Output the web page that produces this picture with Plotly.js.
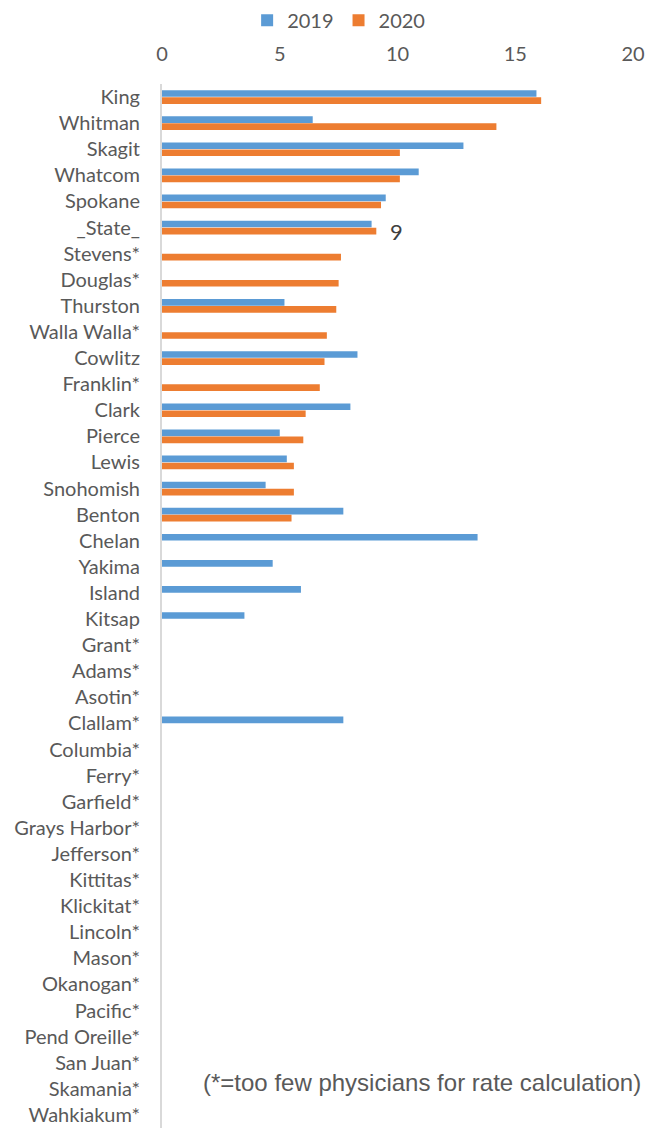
<!DOCTYPE html>
<html>
<head>
<meta charset="utf-8">
<script src="https://cdn.plot.ly/plotly-3.0.1.min.js"></script>
<style>html,body{margin:0;padding:0;background:#fff;}#chart{width:645px;height:1129px;}</style>
</head>
<body>
<div id="chart"></div>
<script>
const counties = ["King","Whitman","Skagit","Whatcom","Spokane","_State_","Stevens*","Douglas*","Thurston","Walla Walla*","Cowlitz","Franklin*","Clark","Pierce","Lewis","Snohomish","Benton","Chelan","Yakima","Island","Kitsap","Grant*","Adams*","Asotin*","Clallam*","Columbia*","Ferry*","Garfield*","Grays Harbor*","Jefferson*","Kittitas*","Klickitat*","Lincoln*","Mason*","Okanogan*","Pacific*","Pend Oreille*","San Juan*","Skamania*","Wahkiakum*"];
const rates2019 = [15.9,6.4,12.8,10.9,9.5,8.9,null,null,5.2,null,8.3,null,8.0,5.0,5.3,4.4,7.7,13.4,4.7,5.9,3.5,null,null,null,7.7,null,null,null,null,null,null,null,null,null,null,null,null,null,null,null];
const rates2020 = [16.1,14.2,10.1,10.1,9.3,9.1,7.6,7.5,7.4,7.0,6.9,6.7,6.1,6.0,5.6,5.6,5.5,null,null,null,null,null,null,null,null,null,null,null,null,null,null,null,null,null,null,null,null,null,null,null];
const seriesNames = ["2019","2020"];
const xTicks = [0,5,10,15,20];
const footnote = "(*=too few physicians for rate calculation)";
const labelledCounty = "_State_";

const gray = "#595959";
const stateIdx = counties.indexOf(labelledCounty);

const traces = [
  {type:"bar", orientation:"h", name:seriesNames[0], y:counties, x:rates2019, marker:{color:"#5B9BD5"}},
  {type:"bar", orientation:"h", name:seriesNames[1], y:counties, x:rates2020, marker:{color:"#ED7D31"}}
];

const layout = {
  width:645, height:1129,
  margin:{l:162, r:11.5, t:78, b:1, pad:0},
  paper_bgcolor:"#fff", plot_bgcolor:"#fff",
  font:{family:"Lato, sans-serif", size:20, color:gray},
  barmode:"group", bargap:0.46, bargroupgap:0.05,
  showlegend:true,
  legend:{orientation:"h", x:0.375, xanchor:"center", y:1.061, yanchor:"middle", font:{size:20, color:gray}, traceorder:"normal", itemwidth:30},
  xaxis:{side:"top", range:[0,20], tickvals:xTicks, ticktext:xTicks.map(String), showgrid:false, zeroline:false, showline:false, ticks:"outside", ticklen:14, tickcolor:"rgba(0,0,0,0)", tickfont:{size:20, color:gray}, fixedrange:true},
  yaxis:{type:"category", autorange:"reversed", showgrid:false, zeroline:false, showline:true, linecolor:"#d9d9d9", linewidth:2, ticks:"outside", ticklen:16, tickcolor:"rgba(0,0,0,0)", tickfont:{size:20, color:gray}, fixedrange:true},
  annotations:[
    {x:rates2020[stateIdx], y:labelledCounty, xref:"x", yref:"y", text:String(Math.round(rates2020[stateIdx])), showarrow:false, xanchor:"left", yanchor:"middle", xshift:12, yshift:-4, font:{size:22, color:"#404040"}},
    {x:1.022, y:0.044, xref:"paper", yref:"paper", text:footnote, showarrow:false, xanchor:"right", yanchor:"middle", font:{family:"Liberation Sans, Arial, sans-serif", size:24, color:gray}}
  ],
  hovermode:false
};

Plotly.newPlot("chart", traces, layout, {displayModeBar:false, staticPlot:true});
</script>
</body>
</html>
